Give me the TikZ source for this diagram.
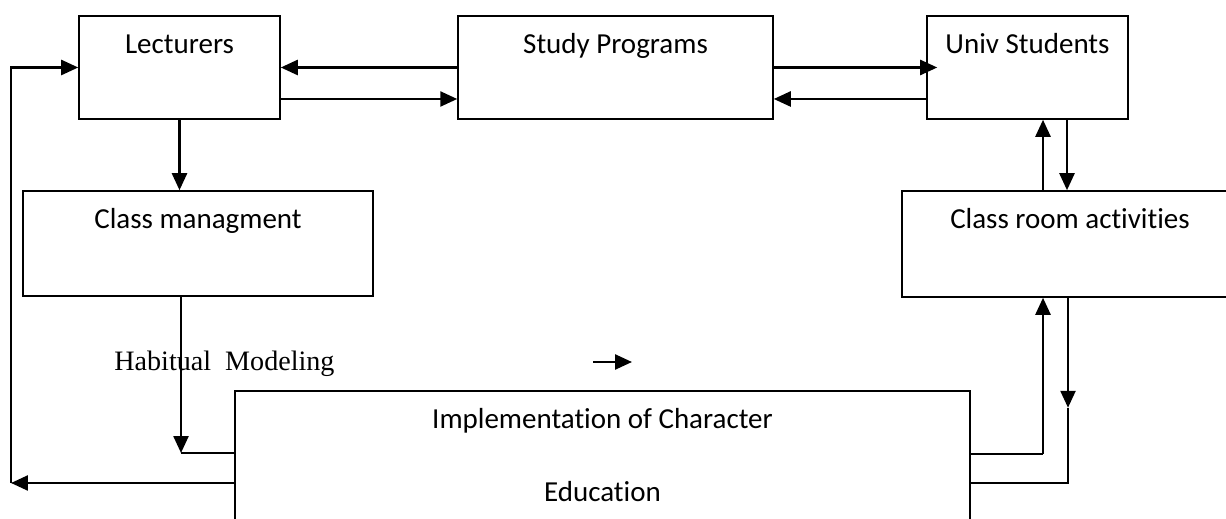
\documentclass[tikz,border=0pt]{standalone}
\usepackage{fontspec}
\setmainfont{Carlito}[Ligatures=CommonOff]
\newfontfamily\timesfont{Liberation Serif}
\usetikzlibrary{arrows.meta,calc}
\tikzset{
  box/.style={draw, line width=0.9pt, rectangle, inner sep=0pt},
  title/.style={anchor=base, yshift=-0.77cm, inner sep=0pt, font=\fontsize{16.5}{20}\selectfont},
  arr/.style={line width=1.4pt, -{Triangle[length=0.34cm, width=0.3cm]}},
  plain/.style={line width=0.9pt},
}

\begin{document}
\begin{tikzpicture}[x=0.02cm, y=-0.02cm]
		%%%%% START %%%%%
		\useasboundingbox (0, 0) rectangle (1226, 519);
		
		\node[box, minimum width=4.02cm, minimum height=2.06cm, label={[title]north:Lecturers}] (lect) at (179.5, 67.5) {};
		\node[box, minimum width=6.3cm, minimum height=2.06cm, label={[title]north:Study Programs}] (prog) at (615.5, 67.5) {};
		\node[box, minimum width=4.02cm, minimum height=2.06cm, label={[title]north:Univ Students}] (stud) at (1027.5, 67.5) {};
		
		\node[box, minimum width=7cm, minimum height=2.1cm, label={[title]north:Class managment}] (mgmt) at (198, 243.5) {};
		\node[box, minimum width=6.72cm, minimum height=2.12cm, label={[title]north:Class room activities}] (actv) at (1070, 244) {};
		
		\node[box, minimum width=14.7cm, minimum height=3.38cm,
			label={[title]north:Implementation of Character},
			label={[title, yshift=-1.46cm]north:Education}] (impl) at (602.5, 475.5) {};
		
		\node[anchor=base west, inner sep=0pt, font=\timesfont\fontsize{16}{19}\selectfont] (habit) at (114, 371) {Habitual\ \ Modeling};
		
		% top row
		\draw[arr] (prog.west) -- (lect.east);
		\draw[arr] ([yshift=-0.63cm]lect.east) -- ([yshift=-0.63cm]prog.west);
		\draw[arr] (prog.east) -- ([xshift=0.22cm]stud.west);
		\draw[arr] ([yshift=-0.63cm]stud.west) -- ([yshift=-0.63cm]prog.east);
		
		\draw[arr] (lect.south) -- (lect.south |- mgmt.north);
		\draw[arr] ([xshift=0.31cm]stud.south |- actv.north) -- ([xshift=0.31cm]stud.south);
		\draw[arr] ([xshift=0.79cm]stud.south) -- ([xshift=0.79cm]stud.south |- actv.north);
		
		% left side
		\coordinate (mgA) at ([xshift=-0.34cm]mgmt.south);
		\coordinate (imA) at ([yshift=0.45cm]impl.west);
		\coordinate (imB) at ([yshift=-0.15cm]impl.west);
		\coordinate (lp) at (11, 67.5);
		\draw[arr] (mgA) -- (mgA |- imA);
		\draw[plain] (mgA |- imA) -- (imA);
		\draw[arr] (imB) -- (imB -| lp);
		\draw[arr] (lp |- imB) -- (lp) -- (lect.west);
		
		% right side
		\coordinate (imC) at ([yshift=0.43cm]impl.east);
		\coordinate (imD) at ([yshift=-0.15cm]impl.east);
		\coordinate (acA) at ([xshift=-0.54cm]actv.south);
		\coordinate (acB) at ([xshift=-0.04cm]actv.south);
		\coordinate (acM) at ([yshift=-2.2cm]acB);
		\draw[plain] (imC) -- (imC -| acA);
		\draw[arr] (imC -| acA) -- (acA);
		\draw[arr] (acB) -- (acM);
		\draw[plain] (acM) -- (acB |- imD) -- (imD);
		
		% loose arrow
		\coordinate (sa) at (593, 362);
		\coordinate (sb) at (632, 362);
		\draw[arr] (sa) -- (sb);
		%%%%% END %%%%%
	\end{tikzpicture}
\end{document}
